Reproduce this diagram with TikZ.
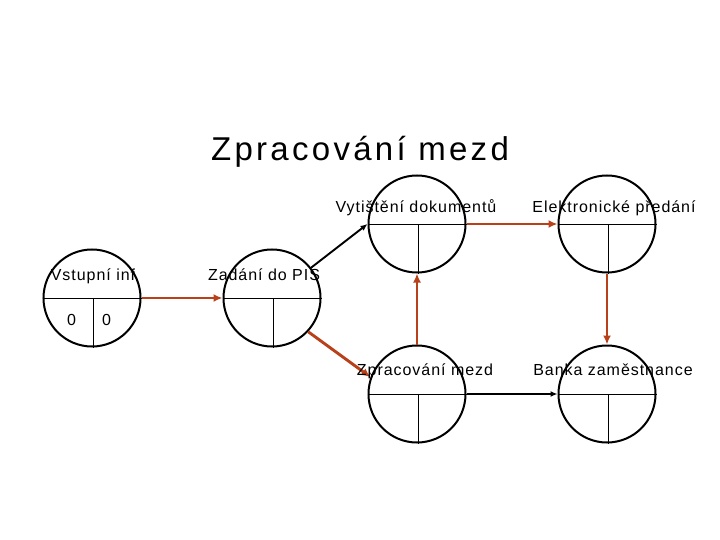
\documentclass[tikz,border=0pt]{standalone}
\usepackage{fontspec}
\setmainfont{Liberation Sans}
\newfontfamily\titlefont[LetterSpace=10]{Liberation Sans}
\newfontfamily\lblfont[LetterSpace=6]{Liberation Sans}
\usepackage{tikz}
\usetikzlibrary{arrows.meta, shapes.geometric}
\definecolor{arrowred}{RGB}{185,65,25}
\tikzset{
	event/.style={circle, draw=black, line width=2pt, minimum size=97pt, inner sep=0pt},
	lbl/.style={font=\lblfont\fontsize{16}{18}\selectfont, anchor=base, inner sep=0pt},
	redarr/.style={arrowred, line width=2.9pt, -{Latex[length=9pt,width=8pt]}},
	blkarr/.style={black, line width=1.9pt, -{Latex[length=7pt,width=6pt]}}
}
\begin{document}
\begin{tikzpicture}[x=1pt, y=-1pt]
			\useasboundingbox (0,0) rectangle (720,540);
			
			% Title
			\node[font=\titlefont\fontsize{33}{38}\selectfont, anchor=base, inner sep=0pt] (title) at (360,161) {Zpracování mezd};
			
			% Draw the events
			\node[event] (vst) at (92,298) {};
			\node[event] (zad) at (272,298) {};
			\node[event] (vyt) at (417,224) {};
			\node[event] (ele) at (607,224) {};
			\node[event] (zpr) at (417,394) {};
			\node[event] (ban) at (607,394) {};
			
			% Split lines inside the events
			\foreach \ev in {vst, zad, vyt, ele, zpr, ban} {
				\draw[line width=0.8pt] (\ev.west) -- (\ev.east);
				\draw[line width=0.8pt] ([xshift=1.5pt]\ev.center) -- ([xshift=1.5pt]\ev.south);
			}
			
			% Draw the activities
			\draw[redarr] (vst.east) -- (zad.west);
			\draw[redarr] (vyt.east) -- (ele.west);
			\draw[redarr] (ele.south) -- (ban.north);
			\draw[redarr] (zpr.north) -- (vyt.south);
			\draw[redarr] (zad.-43) -- (zpr.160);
			\draw[blkarr] (zad) -- (vyt.west);
			\draw[blkarr] (zpr.east) -- (ban.west);
			
			% Labels of the events
			\node[lbl] (vst-l) at (93,280) {Vstupní inf};
			\node[lbl] (zad-l) at (264,280) {Zadání do PIS};
			\node[lbl] (vyt-l) at (416,212) {Vytištění dokumentů};
			\node[lbl] (ele-l) at (614,212) {Elektronické předání};
			\node[lbl] (zpr-l) at (425,375) {Zpracování mezd};
			\node[lbl] (ban-l) at (613,375) {Banka zaměstnance};
			
			% Times of the first event
			\node[lbl] (vst-a) at (71.5,325) {0};
			\node[lbl] (vst-b) at (106.5,325) {0};
			
\end{tikzpicture}
\end{document}
